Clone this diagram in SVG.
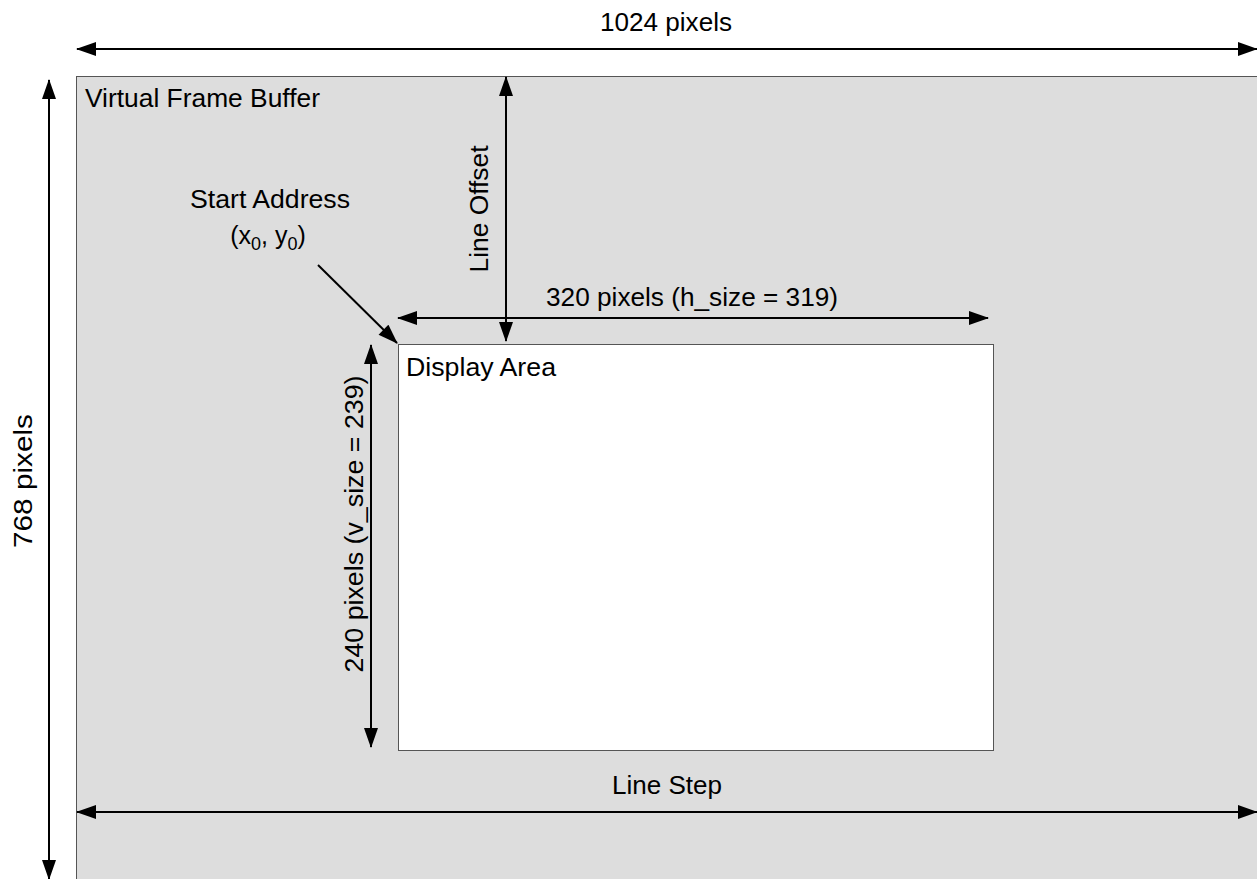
<svg xmlns="http://www.w3.org/2000/svg" width="1257" height="879" viewBox="0 0 1257 879">
<style>
text{font-family:"Liberation Sans",Arial,sans-serif;font-size:25px;fill:#000}
.c{stroke:#000;stroke-width:2;fill:none;marker-end:url(#ah)}
.d{marker-start:url(#ah)}
</style>
<defs>
<marker id="ah" viewBox="0 0 20 14" refX="19" refY="7" markerWidth="21" markerHeight="14" markerUnits="userSpaceOnUse" orient="auto-start-reverse">
<path d="M0,0 L20,7 L0,14 z" fill="#000"/>
</marker>
</defs>
<rect width="1257" height="879" fill="#fff"/>
<g id="frame-buffer">
<rect x="76.5" y="76.5" width="1185" height="810" fill="#dddddd" stroke="#555" stroke-width="1"/>
<text x="85" y="107" textLength="235" lengthAdjust="spacingAndGlyphs">Virtual Frame Buffer</text>
</g>
<g id="display-area">
<rect x="398.5" y="344.5" width="595" height="406" fill="#fff" stroke="#555" stroke-width="1"/>
<text x="406" y="376" textLength="150" lengthAdjust="spacingAndGlyphs">Display Area</text>
</g>
<g id="connectors">
<line class="c d" x1="77" y1="49" x2="1257" y2="49"/>
<line class="c d" x1="49" y1="80" x2="49" y2="879"/>
<line class="c d" x1="506" y1="77" x2="506" y2="341"/>
<line class="c d" x1="398" y1="318" x2="988" y2="318"/>
<line class="c" x1="318" y1="265" x2="397" y2="343"/>
<line class="c d" x1="371" y1="345" x2="371" y2="747"/>
<line class="c d" x1="77" y1="812" x2="1257" y2="812"/>
</g>
<g id="labels">
<text x="666" y="31" text-anchor="middle" textLength="132" lengthAdjust="spacingAndGlyphs">1024 pixels</text>
<text transform="translate(32,481) rotate(-90)" text-anchor="middle" textLength="134" lengthAdjust="spacingAndGlyphs">768 pixels</text>
<text x="270" y="208" text-anchor="middle" textLength="160" lengthAdjust="spacingAndGlyphs">Start Address</text>
<text x="268" y="244" text-anchor="middle">(x<tspan font-size="18" dy="6">0</tspan><tspan dy="-6">, y</tspan><tspan font-size="18" dy="6">0</tspan><tspan dy="-6">)</tspan></text>
<text transform="translate(488,209) rotate(-90)" text-anchor="middle" textLength="127" lengthAdjust="spacingAndGlyphs">Line Offset</text>
<text x="692" y="306" text-anchor="middle" textLength="292" lengthAdjust="spacingAndGlyphs">320 pixels (h_size = 319)</text>
<text transform="translate(363,524) rotate(-90)" text-anchor="middle" textLength="297" lengthAdjust="spacingAndGlyphs">240 pixels (v_size = 239)</text>
<text x="667" y="794" text-anchor="middle" textLength="110" lengthAdjust="spacingAndGlyphs">Line Step</text>
</g>
</svg>
